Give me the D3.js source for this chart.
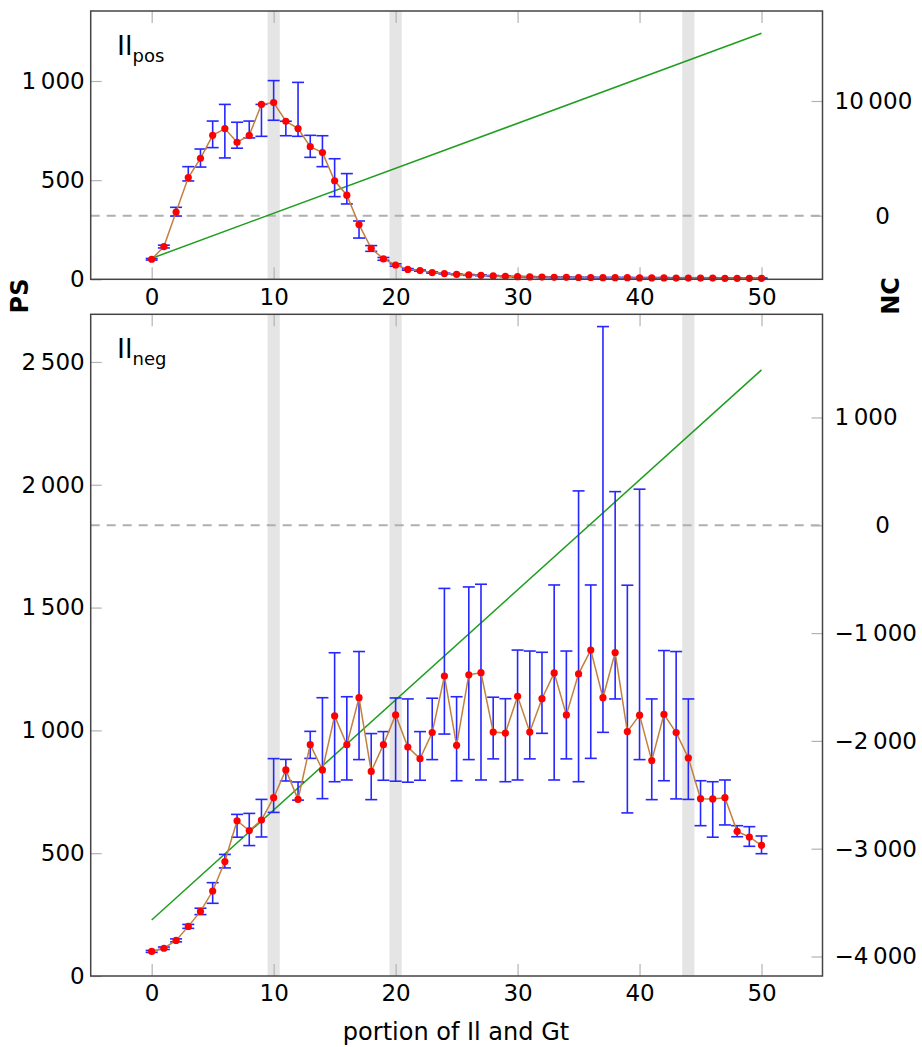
<!DOCTYPE html>
<html>
<head>
<meta charset="UTF-8">
<style>
  body { margin: 0; background: #fff; }
  svg { display: block; font-family: "DejaVu Sans", sans-serif; }
  .tick line { stroke: #b3b3b3; stroke-width: 1.2; }
  .tick text { font-size: 23px; fill: #000; font-family: "DejaVu Sans", sans-serif; }
</style>
</head>
<body>
<svg width="922" height="1047"></svg>
<script src="https://cdn.jsdelivr.net/npm/d3@7"></script>
<script>
// portions 0..50
const portions = d3.range(0, 51);

// upper panel (Il_pos)
const posPS = [101,165,339,513,610,726,760,691,726,882,891,797,760,669,639,497,424,276,156,103,72,
  50,44,34,29,25,22,20,17,15,13,12,11,10,10,9,9,8,8,8,7,7,7,6,6,6,6,5,5,5,5];
const posLow = [97,158,319,496,566,664,612,661,713,721,802,724,721,615,568,417,380,208,141,96,66,
  46,41,31,27,23,20,18,15,13,11,10,9,8,8,7,7,6,6,6,5,5,5,4,4,4,4,3,3,3,3];
const posHigh = [105,172,363,568,657,798,882,792,798,882,1002,797,993,726,724,608,533,294,170,110,78,
  54,47,37,31,27,24,22,19,17,15,14,13,12,12,11,11,10,10,10,9,9,9,8,8,8,8,7,7,7,7];
const posFitNC = [-3714, 15902]; // at portion 0 and 50

// lower panel (Il_neg)
const negPS = [100,113,145,202,263,346,466,632,592,635,726,839,719,942,839,1059,942,1133,833,942,
  1063,932,885,991,1221,939,1226,1235,993,989,1139,993,1129,1234,1063,1230,1327,1133,1317,995,
  1062,877,1065,991,888,722,721,726,589,566,532];
const negLow = [96,108,139,194,250,296,440,565,531,566,666,794,716,886,722,791,798,881,718,797,
  793,789,797,881,985,795,881,798,884,791,798,884,988,798,884,791,886,992,1128,664,
  881,718,795,721,719,612,565,615,567,528,498];
const negHigh = [104,118,151,210,276,380,495,658,662,719,885,882,790,996,1133,1316,1137,1321,987,995,
  1132,1128,995,1131,1578,1137,1584,1595,1135,1129,1327,1323,1318,1592,1323,1975,1592,2644,1972,1591,
  1982,1128,1325,1321,1128,795,791,798,612,608,570];
const negFitNC = [-3661, 1441];

const bands = [[9.5, 10.5], [19.5, 20.5], [43.5, 44.5]];
const xTicks = [0, 10, 20, 30, 40, 50];

const svg = d3.select("svg");
const left = 90.7, right = 822.5;

const x = d3.scaleLinear().domain([-5, 55]).range([left, right]);

function fmt(v) {
  const s = d3.format(",")(Math.abs(v)).replace(/,/g, "\u2009");
  return (v < 0 ? "\u2212" : "") + s;
}

function panel(cfg) {
  const yPS = d3.scaleLinear().domain(cfg.psDomain).range([cfg.bottom, cfg.top]);
  const yNC = d3.scaleLinear().domain(cfg.ncDomain).range([cfg.bottom, cfg.top]);
  const g = svg.append("g");

  // grey bands
  g.selectAll(".band").data(bands).join("rect")
    .attr("x", d => x(d[0])).attr("width", d => x(d[1]) - x(d[0]))
    .attr("y", cfg.top).attr("height", cfg.bottom - cfg.top)
    .attr("fill", "#e5e5e5");

  // axes
  g.append("g").attr("transform", `translate(0,${cfg.bottom})`)
    .call(d3.axisBottom(x).tickValues(xTicks).tickSize(-12).tickPadding(9).tickFormat(d3.format("d")))
    .call(a => a.select(".domain").remove());
  g.append("g").attr("transform", `translate(0,${cfg.top})`)
    .call(d3.axisTop(x).tickValues(xTicks).tickSize(-12).tickFormat(""))
    .call(a => a.select(".domain").remove());
  g.append("g").attr("transform", `translate(${left},0)`)
    .call(d3.axisLeft(yPS).tickValues(cfg.psTicks).tickSize(-11).tickPadding(6).tickFormat(fmt))
    .call(a => a.select(".domain").remove());
  const ra = g.append("g").attr("transform", `translate(${right},0)`)
    .call(d3.axisRight(yNC).tickValues(cfg.ncTicks).tickSize(-11).tickPadding(12).tickFormat(fmt))
    .call(a => a.select(".domain").remove());
  ra.selectAll(".tick text").filter(d => d === 0)
    .attr("text-anchor", "middle").attr("x", 60);

  // zero line of NC
  g.append("line")
    .attr("x1", left).attr("x2", right)
    .attr("y1", yNC(0)).attr("y2", yNC(0))
    .attr("stroke", "#b0b0b0").attr("stroke-width", 2).attr("stroke-dasharray", "9,7");

  // linear NC trend
  g.append("line")
    .attr("x1", x(0)).attr("x2", x(50))
    .attr("y1", yNC(cfg.fit[0])).attr("y2", yNC(cfg.fit[1]))
    .attr("stroke", "#1f9e1f").attr("stroke-width", 1.5);

  // error bars
  const eb = g.append("g").attr("stroke", "#2626ff").attr("stroke-width", 1.6).attr("fill", "none");
  portions.forEach((p, i) => {
    const x0 = x(p), lo = yPS(cfg.low[i]), hi = yPS(cfg.high[i]);
    eb.append("line").attr("x1", x0).attr("x2", x0).attr("y1", lo).attr("y2", hi);
    eb.append("line").attr("x1", x0 - 6).attr("x2", x0 + 6).attr("y1", lo).attr("y2", lo);
    eb.append("line").attr("x1", x0 - 6).attr("x2", x0 + 6).attr("y1", hi).attr("y2", hi);
  });

  // PS line + markers
  g.append("path")
    .datum(cfg.ps)
    .attr("d", d3.line().x((d, i) => x(portions[i])).y(d => yPS(d)))
    .attr("fill", "none").attr("stroke", "#c2803f").attr("stroke-width", 1.5);
  g.selectAll(".pt").data(cfg.ps).join("circle")
    .attr("cx", (d, i) => x(portions[i])).attr("cy", d => yPS(d))
    .attr("r", 3.6).attr("fill", "#ff0000");

  // frame
  g.append("rect")
    .attr("x", left).attr("y", cfg.top)
    .attr("width", right - left).attr("height", cfg.bottom - cfg.top)
    .attr("fill", "none").attr("stroke", "#444").attr("stroke-width", 1.5);

  // panel label
  const t = g.append("text").attr("x", 117).attr("y", cfg.top + 44).attr("font-size", 27);
  t.append("tspan").text("Il");
  t.append("tspan").attr("font-size", 18).attr("dy", 7).text(cfg.sub);
}

panel({
  top: 11, bottom: 279.3,
  psDomain: [0, 1353], ncDomain: [-5545, 17847],
  psTicks: [0, 500, 1000], ncTicks: [0, 10000],
  ps: posPS, low: posLow, high: posHigh, fit: posFitNC, sub: "pos"
});

panel({
  top: 314.3, bottom: 976,
  psDomain: [0, 2694], ncDomain: [-4181, 1957],
  psTicks: [0, 500, 1000, 1500, 2000, 2500], ncTicks: [-4000, -3000, -2000, -1000, 0, 1000],
  ps: negPS, low: negLow, high: negHigh, fit: negFitNC, sub: "neg"
});

// axis titles
svg.append("text").attr("transform", "translate(28,296) rotate(-90)")
  .attr("text-anchor", "middle").attr("font-size", 24).attr("font-weight", "bold").text("PS");
svg.append("text").attr("transform", "translate(899,296) rotate(-90)")
  .attr("text-anchor", "middle").attr("font-size", 24).attr("font-weight", "bold").text("NC");
svg.append("text").attr("x", 456).attr("y", 1040)
  .attr("text-anchor", "middle").attr("font-size", 24).text("portion of Il and Gt");
</script>
</body>
</html>
